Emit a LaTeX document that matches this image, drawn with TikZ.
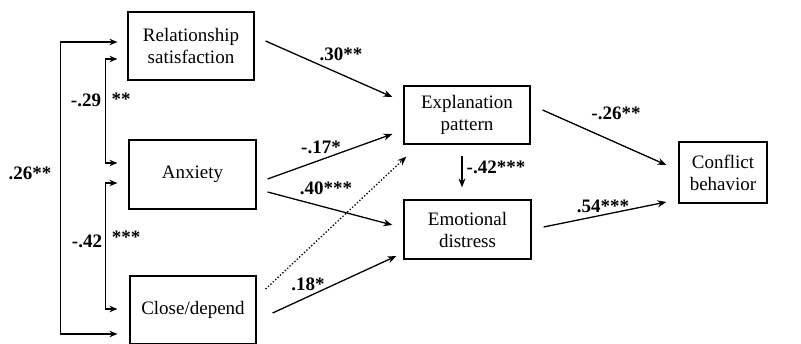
\documentclass[tikz,border=0pt]{standalone}
\usepackage{fontspec}
\setmainfont{Liberation Serif}
\usetikzlibrary{arrows.meta,calc}
\begin{document}
\begin{tikzpicture}[x=1pt,y=-1pt,
 box/.style={draw, line width=1.2pt, inner sep=0pt, align=center, font=\fontsize{19}{22}\selectfont},
 lbl/.style={font=\fontsize{19}{20}\selectfont\bfseries, inner sep=0pt},
 arr/.style={-{Stealth[length=9pt,width=7pt]}, line width=1.3pt},
 barr/.style={{Stealth[length=8pt,width=6.5pt]}-{Stealth[length=8pt,width=6.5pt]}, line width=1.3pt}]
\useasboundingbox (0,0) rectangle (801,343);
\clip (0,0) rectangle (801,343);
% boxes
\node[box, minimum width=126pt, minimum height=68pt] (rs) at (191,46) {Relationship\\satisfaction};
\node[box, minimum width=127pt, minimum height=69pt] (anx) at (192.5,174.5) {Anxiety};
\node[box, minimum width=126pt, minimum height=68pt] (cd) at (193,310) {Close/depend};
\node[box, minimum width=126pt, minimum height=58pt] (ep) at (467,115) {Explanation\\pattern};
\node[box, minimum width=127pt, minimum height=59pt] (ed) at (467.5,229.5) {Emotional\\distress};
\node[box, minimum width=88pt, minimum height=61pt] (cb) at (723,172.5) {Conflict\\behavior};
% correlations
\draw[barr] ($(rs.west)+(-10,-4)$) -- ++(-57,0) |- ($(cd.west)+(-12,24)$);
\draw[barr] ($(rs.west)+(-10,13)$) -- ++(-12,0) |- ($(anx.west)+(-11,-11.5)$);
\draw[barr] ($(anx.west)+(-11,8.5)$) -- ++(-12,0) |- ($(cd.west)+(-12,-1)$);
% paths
\draw[arr] ($(rs.east)+(11,-5)$) -- ($(ep.west)+(-11,-18)$);
\draw[arr] ($(anx.east)+(11,4.5)$) -- ($(ep.west)+(-11,19)$);
\draw[arr] ($(anx.east)+(11,17.5)$) -- ($(ed.west)+(-11,-4.5)$);
\draw[arr, dotted] ($(cd.east)+(9,-21)$) -- ($(ep.south west)+(3,12)$);
\draw[arr] ($(cd.east)+(16,3)$) -- ($(ed.west)+(-7,26.5)$);
\draw[arr] ($(ep.south)+(-5,11)$) -- ($(ed.north)+(-5.5,-12)$);
\draw[arr] ($(ep.east)+(12,-5)$) -- ($(cb.west)+(-12,-7.5)$);
\draw[arr] ($(ed.east)+(12,-2.5)$) -- ($(cb.west)+(-12,29.5)$);
% labels
\node[lbl] (l26) at (30,173) {.26**};
\node[lbl] (l29a) at (86,100) {-.29};
\node[lbl] (l29b) at (121,99) {**};
\node[lbl] (l42a) at (87,241) {-.42};
\node[lbl] (l42b) at (126,237) {***};
\node[lbl] (l30) at (341,54) {.30**};
\node[lbl] (l17) at (321,147) {-.17*};
\node[lbl] (l40) at (326,188) {.40***};
\node[lbl] (l18) at (308,284) {.18*};
\node[lbl] (l42c) at (496,167) {-.42***};
\node[lbl] (l26b) at (616,113) {-.26**};
\node[lbl] (l54) at (603,206) {.54***};
\end{tikzpicture}
\end{document}
